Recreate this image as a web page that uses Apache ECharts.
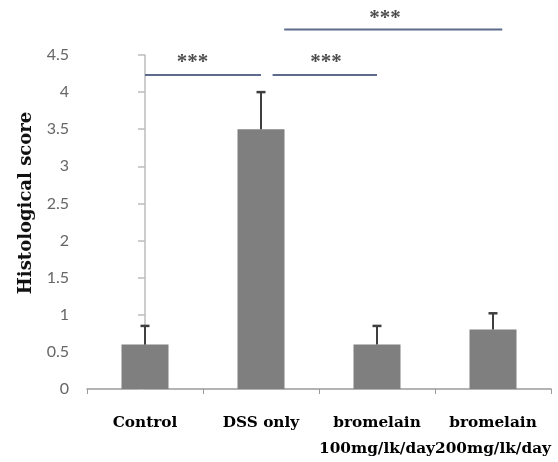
<!DOCTYPE html>
<html><head><meta charset="utf-8">
<script src="https://cdn.jsdelivr.net/npm/echarts@6/dist/echarts.min.js"></script>
<style>html,body{margin:0;padding:0;background:#fff}#c{width:558px;height:462px}</style>
</head><body><div id="c"></div>
<script>
const categories = ['Control', 'DSS only', 'bromelain\n100mg/lk/day', 'bromelain\n200mg/lk/day'];
const means = [0.6, 3.5, 0.6, 0.8];
const errors = [0.25, 0.5, 0.25, 0.22];
const yTicks = {min: 0, max: 4.5, interval: 0.5};
const yTitle = 'Histological score';
// significance brackets: [xStart, xEnd, y] in category-index / value units
const sigLines = [[0, 1, 4.23], [1.1, 2.0, 4.23], [1.2, 3.08, 4.845]];
const sigStars = [[0.41, 4.40, '***'], [1.56, 4.40, '***'], [2.07, 4.99, '***']];

const chart = echarts.init(document.getElementById('c'), null, {renderer: 'canvas'});

const lineSeries = sigLines.map(l => ({
  type: 'line', xAxisIndex: 1, yAxisIndex: 0, clip: false, symbol: 'none', silent: true,
  lineStyle: {color: '#5d6c8c', width: 2},
  data: [[l[0], l[2]], [l[1], l[2]]], z: 5
}));

chart.setOption({
  animation: false,
  grid: {left: 87, right: 7, top: 55, bottom: 73},
  xAxis: [{
    type: 'category', data: categories,
    axisLine: {lineStyle: {color: '#9a9a9a', width: 1.5}},
    axisTick: {show: true, alignWithLabel: false, length: 5, lineStyle: {color: '#9a9a9a'}},
    axisLabel: {interval: 0, color: '#000', fontFamily: 'DejaVu Serif', fontWeight: 'bold', fontSize: 15.3, lineHeight: 26, margin: 21}
  }, {
    type: 'value', min: -0.5, max: 3.5, show: false
  }],
  yAxis: [{
    type: 'value', min: yTicks.min, max: yTicks.max, interval: yTicks.interval,
    splitLine: {show: false},
    axisLine: {show: true, lineStyle: {color: '#bdbdbd', width: 1.5}},
    axisTick: {show: true, length: 7, lineStyle: {color: '#bdbdbd', width: 1.5}},
    axisLabel: {color: '#666', fontFamily: 'Lato', fontSize: 16, margin: 18}
  }],
  graphic: [{
    type: 'text', x: 26, y: 203, rotation: Math.PI / 2,
    style: {text: yTitle, font: 'bold 18px "DejaVu Serif"', fill: '#111', textAlign: 'center', textVerticalAlign: 'middle'}
  }],
  series: [{
    type: 'bar', data: means, barWidth: 47,
    itemStyle: {color: '#7f7f7f'}, z: 2
  }, {
    type: 'custom', z: 3, silent: true,
    data: means.map((m, i) => [i, m, m + errors[i]]),
    renderItem: function (params, api) {
      const p0 = api.coord([api.value(0), api.value(1)]);
      const p1 = api.coord([api.value(0), api.value(2)]);
      const hw = 4.5;
      return {
        type: 'group', children: [
          {type: 'line', shape: {x1: p0[0], y1: p0[1], x2: p1[0], y2: p1[1]}, style: {stroke: '#3f3f3f', lineWidth: 2}},
          {type: 'line', shape: {x1: p1[0] - hw, y1: p1[1], x2: p1[0] + hw, y2: p1[1]}, style: {stroke: '#3f3f3f', lineWidth: 2.5}}
        ]
      };
    }
  }].concat(lineSeries).concat([{
    type: 'scatter', xAxisIndex: 1, yAxisIndex: 0, clip: false, silent: true,
    symbolSize: 1, itemStyle: {color: 'rgba(0,0,0,0)'},
    data: sigStars.map(s => ({value: [s[0], s[1]], name: s[2]})),
    label: {show: true, position: 'inside', formatter: p => p.name, color: '#222', fontFamily: 'Liberation Serif', fontWeight: 'bold', fontSize: 21}
  }])
});
</script></body></html>
